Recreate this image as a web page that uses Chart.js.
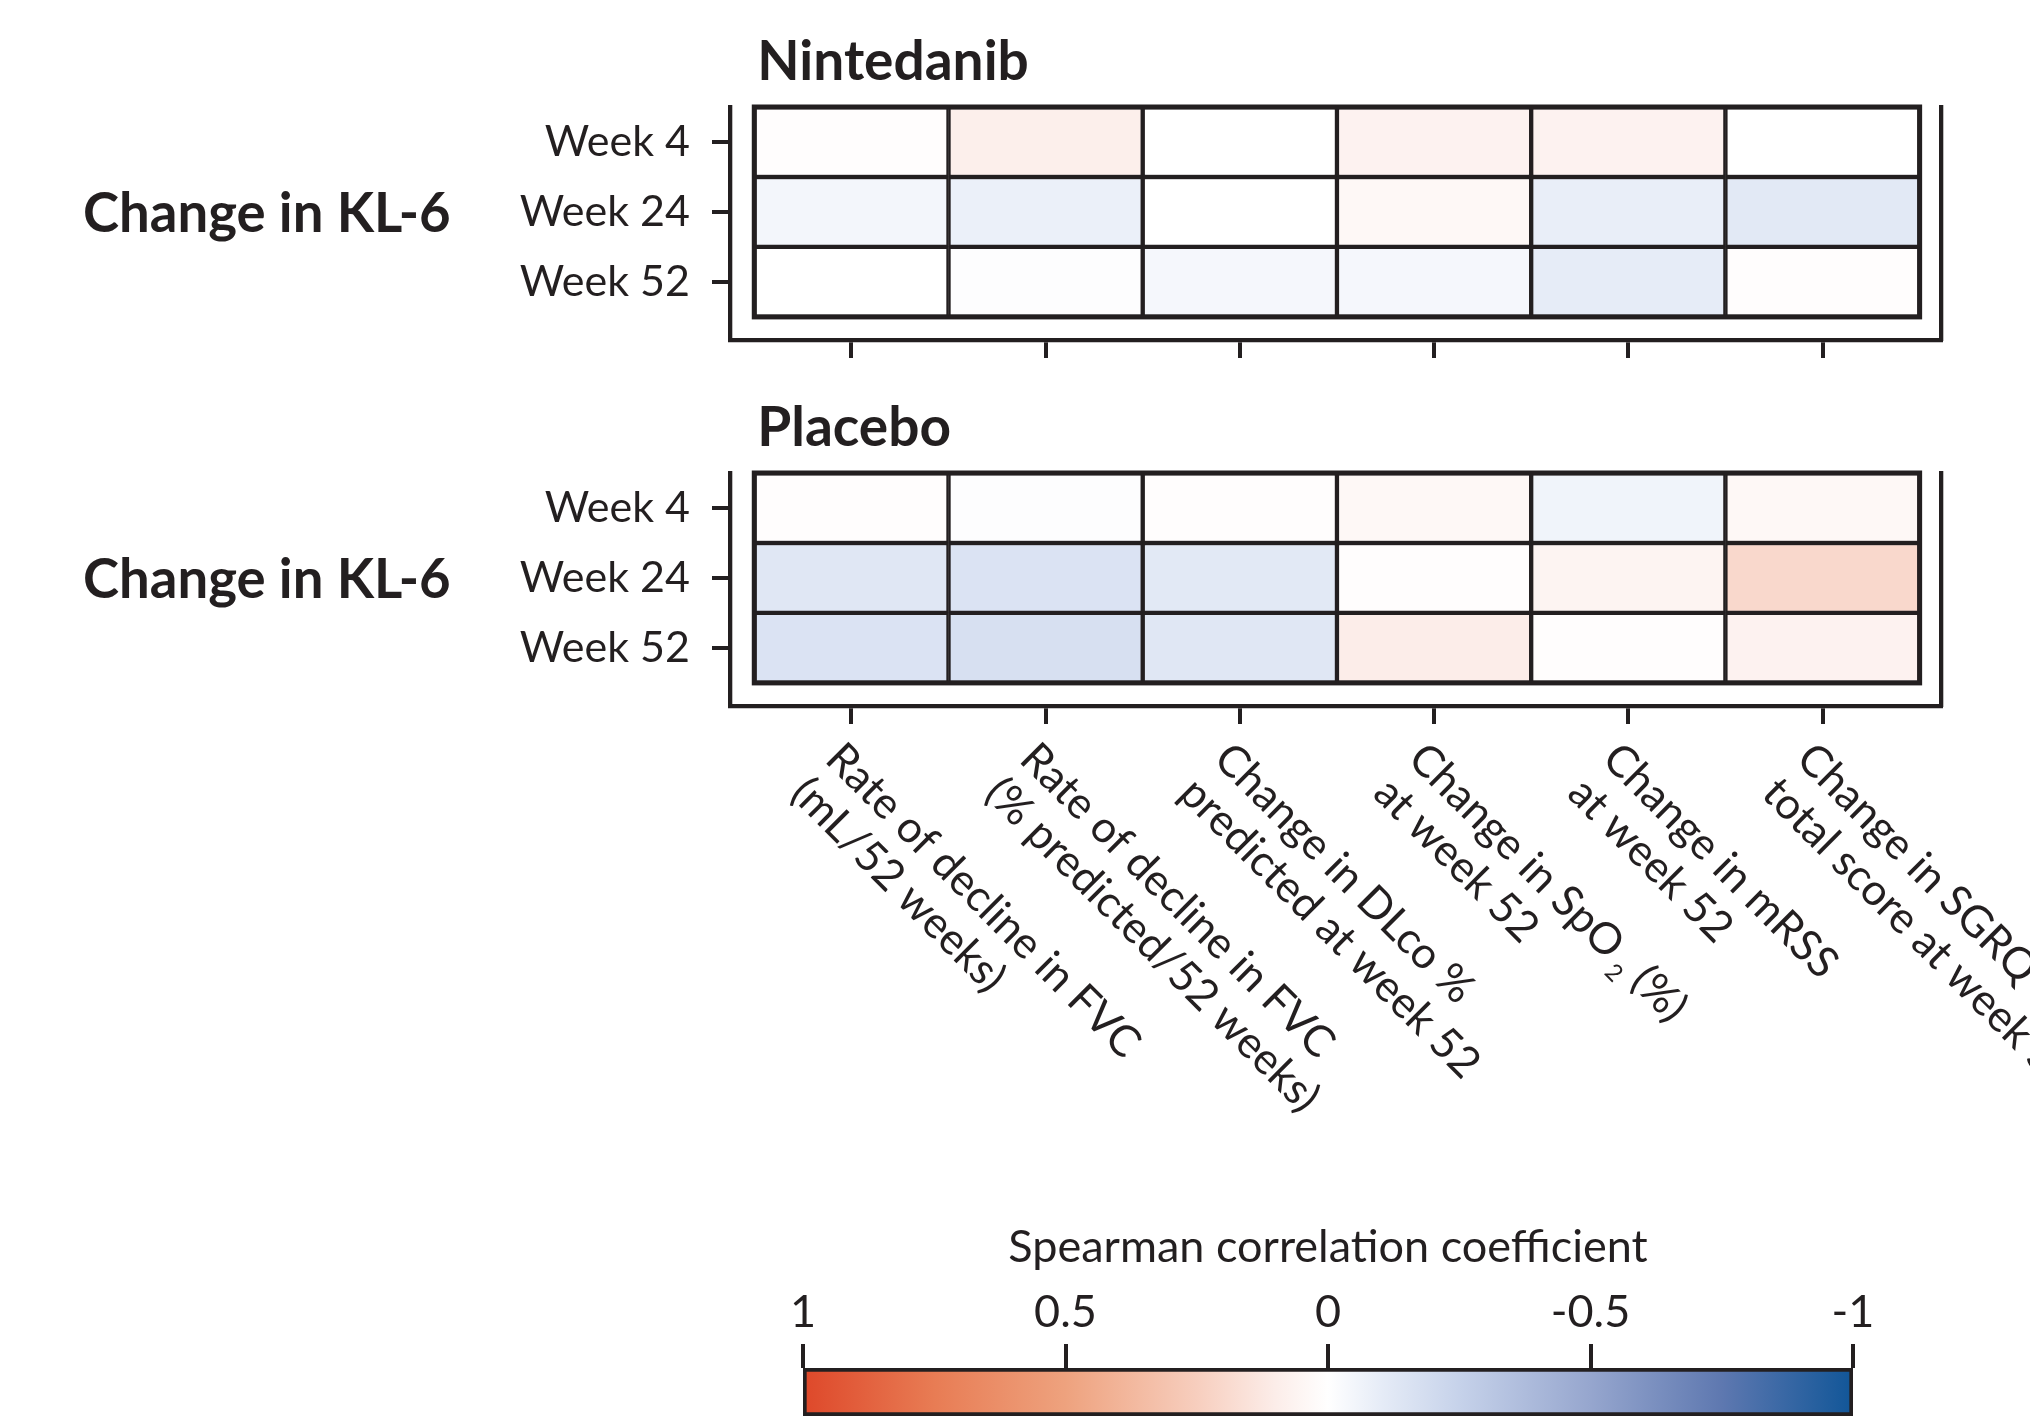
<!DOCTYPE html>
<html>
<head>
<meta charset="utf-8">
<title>KL-6 correlations</title>
<script src="https://cdn.jsdelivr.net/npm/chart.js@4.4.1/dist/chart.umd.min.js"></script>
<style>
  html, body { margin: 0; padding: 0; background: #fff; }
  #page { position: relative; width: 2030px; height: 1422px; overflow: hidden; background: #fff; }
  canvas { position: absolute; }
</style>
</head>
<body>
<div id="page">
  <canvas id="nintedanib" width="2030" height="366" style="left:0;top:0"></canvas>
  <canvas id="placebo" width="2030" height="820" style="left:0;top:366px"></canvas>
  <canvas id="colorbar" width="1300" height="222" style="left:700px;top:1200px"></canvas>
</div>
<script>
// ---- data ----
const outcomes = [
  ['Rate of decline in FVC', '(mL/52 weeks)'],
  ['Rate of decline in FVC', '(% predicted/52 weeks)'],
  ['Change in DLco %', 'predicted at week 52'],
  ['Change in SpO\u2082 (%)', 'at week 52'],
  ['Change in mRSS', 'at week 52'],
  ['Change in SGRQ', 'total score at week 52']
];
const weekLabels = ['Week 4', 'Week 24', 'Week 52'];
const groupLabel = 'Change in KL-6';

// Spearman rho, rows = weeks, columns = outcomes
const nintedanibRho = [
  [0.01, 0.09, 0.00, 0.07, 0.07, 0.00],
  [-0.05, -0.08, 0.00, 0.04, -0.09, -0.12],
  [0.00, -0.01, -0.04, -0.04, -0.10, 0.01]
];
const placeboRho = [
  [0.01, -0.01, 0.01, 0.04, -0.06, 0.04],
  [-0.13, -0.15, -0.12, 0.01, 0.06, 0.20],
  [-0.15, -0.17, -0.13, 0.10, 0.01, 0.07]
];
const colorbarTicks = [1, 0.5, 0, -0.5, -1];
const colorbarTitle = 'Spearman correlation coefficient';

// ---- styling ----
const INK = '#231f20';
const FONT = 'Lato, "Open Sans", sans-serif';
Chart.defaults.font.family = FONT;
Chart.defaults.color = INK;

// diverging ramp: value -> rgb
const RAMP = [
  [1, [222, 72, 42]],
  [0.75, [232, 124, 84]],
  [0.5, [238, 162, 126]],
  [0.25, [247, 206, 190]],
  [0.1, [252, 237, 233]],
  [0, [255, 255, 255]],
  [-0.1, [230, 236, 247]],
  [-0.25, [198, 210, 234]],
  [-0.5, [150, 166, 206]],
  [-0.75, [94, 120, 176]],
  [-1, [17, 86, 152]]
];

function rampColor(v) {
  v = Math.max(-1, Math.min(1, v));
  for (let i = 0; i < RAMP.length - 1; i++) {
    const [v0, c0] = RAMP[i];
    const [v1, c1] = RAMP[i + 1];
    if (v <= v0 && v >= v1) {
      const t = (v0 - v) / (v0 - v1);
      return 'rgb(' + c0.map((c, k) => Math.round(c + (c1[k] - c) * t)).join(',') + ')';
    }
  }
  return 'rgb(255,255,255)';
}

function rampGradient(chart) {
  const xs = chart.scales.x;
  if (!xs || !chart.chartArea) return '#ffffff';
  const x1 = xs.getPixelForValue(1), x2 = xs.getPixelForValue(-1);
  if (!Number.isFinite(x1) || !Number.isFinite(x2) || x1 === x2) return '#ffffff';
  const g = chart.ctx.createLinearGradient(x1, 0, x2, 0);
  RAMP.forEach(([v, c]) => g.addColorStop((1 - v) / 2, 'rgb(' + c.join(',') + ')'));
  return g;
}

// text with a subscript two (SpO2)
function drawRich(ctx, text, x, y, fs) {
  const parts = text.split('\u2082');
  ctx.font = fs + 'px ' + FONT;
  if (parts.length === 1) { ctx.fillText(text, x, y); return; }
  ctx.fillText(parts[0], x, y);
  let cx = x + ctx.measureText(parts[0]).width + fs * 0.14;
  ctx.font = Math.round(fs * 0.55) + 'px ' + FONT;
  ctx.fillText('2', cx, y + fs * 0.25);
  cx += ctx.measureText('2').width;
  ctx.font = fs + 'px ' + FONT;
  ctx.fillText(parts[1], cx, y);
}

// frame around the grid, panel title, row-group label and slanted outcome labels
const panelDecor = {
  id: 'panelDecor',
  afterDatasetsDraw(chart) {
    const { ctx } = chart;
    const xs = chart.scales.x, ys = chart.scales.y;
    const l = xs.getPixelForValue(-0.5), r = xs.getPixelForValue(outcomes.length - 0.5);
    const t = ys.getPixelForValue(-0.5), b = ys.getPixelForValue(weekLabels.length - 0.5);
    ctx.save();
    ctx.strokeStyle = INK;
    ctx.lineWidth = 5;
    ctx.strokeRect(l, t, r - l, b - t);
    ctx.restore();
  },
  afterDraw(chart, args, opts) {
    const { ctx } = chart;
    const xs = chart.scales.x, ys = chart.scales.y;
    const left = xs.getPixelForValue(-0.5), top = ys.getPixelForValue(-0.5);
    ctx.save();
    ctx.fillStyle = INK;
    ctx.textAlign = 'left';
    ctx.textBaseline = 'alphabetic';
    ctx.font = 'bold 55px ' + FONT;
    ctx.fillText(opts.title, left + 3, top - 27);
    ctx.font = 'bold 54.5px ' + FONT;
    ctx.fillText(opts.group, 83, ys.getPixelForValue(1) + 20);
    if (opts.withLabels) {
      const fs = 43.5, lineH = 49, cap = 31;
      outcomes.forEach((lines, i) => {
        ctx.save();
        ctx.translate(xs.getPixelForValue(i) - 6, xs.top + 33);
        ctx.rotate(Math.PI / 4);
        lines.forEach((line, k) => drawRich(ctx, line, 0, cap + k * lineH, fs));
        ctx.restore();
      });
    }
    ctx.restore();
  }
};

function heatmapPanel(canvasId, rho, title, withLabels) {
  const canvas = document.getElementById(canvasId);
  const H = canvas.height;
  const cells = [];
  rho.forEach((row, r) => row.forEach((v, c) => cells.push({ x: c, y: [r - 0.5, r + 0.5], rho: v })));
  return new Chart(canvas, {
    type: 'bar',
    data: {
      datasets: [{
        data: cells,
        xAxisID: 'x',
        yAxisID: 'y',
        backgroundColor: (ctx) => rampColor(ctx.raw ? ctx.raw.rho : 0),
        borderColor: INK,
        borderWidth: 2.5,
        borderSkipped: false,
        barPercentage: 1,
        categoryPercentage: 1
      }]
    },
    options: {
      responsive: false,
      animation: false,
      events: [],
      layout: { padding: { top: 107, right: 89, left: 0, bottom: H - 340 - 26 } },
      plugins: {
        legend: { display: false },
        tooltip: { enabled: false },
        panelDecor: { title: title, group: groupLabel, withLabels: withLabels }
      },
      scales: {
        x: {
          type: 'linear',
          offset: false,
          min: -0.625,
          max: outcomes.length - 0.39,
          afterBuildTicks: (s) => { s.ticks = outcomes.map((_, i) => ({ value: i })); },
          afterFit: (s) => { s.height = 26; s.paddingLeft = 0; s.paddingRight = 0; },
          ticks: { display: false },
          grid: { offset: false, drawOnChartArea: false, drawTicks: true, tickLength: 18, lineWidth: 4, color: INK },
          border: { display: true, width: 4.3, color: INK }
        },
        y: {
          type: 'linear',
          reverse: true,
          min: -0.5,
          max: weekLabels.length - 0.5 + 0.33,
          afterBuildTicks: (s) => { s.ticks = weekLabels.map((_, i) => ({ value: i })); },
          afterFit: (s) => { s.width = 730; s.paddingTop = 0; s.paddingBottom = 0; },
          ticks: { callback: (v) => weekLabels[v], font: { size: 43 }, padding: 22, color: INK, autoSkip: false },
          grid: { drawOnChartArea: false, drawTicks: true, tickLength: 18, lineWidth: 4, color: INK },
          border: { display: true, width: 4.3, color: INK }
        },
        y2: {
          type: 'linear',
          position: 'right',
          display: true,
          afterFit: (s) => { s.width = 0; s.paddingTop = 0; s.paddingBottom = 0; },
          ticks: { display: false },
          grid: { display: false, drawTicks: false },
          border: { display: true, width: 4.3, color: INK }
        }
      }
    },
    plugins: [panelDecor]
  });
}

heatmapPanel('nintedanib', nintedanibRho, 'Nintedanib', false);
heatmapPanel('placebo', placeboRho, 'Placebo', true);

// colour key
const colorKey = new Chart(document.getElementById('colorbar'), {
  type: 'bar',
  data: {
    labels: [''],
    datasets: [{
      data: [[-1, 1]],
      backgroundColor: (ctx) => rampGradient(ctx.chart),
      borderColor: INK,
      borderWidth: 4,
      borderSkipped: false,
      barPercentage: 1,
      categoryPercentage: 1
    }]
  },
  options: {
    indexAxis: 'y',
    responsive: false,
    animation: false,
    events: [],
    layout: { padding: { left: 103, right: 147, top: 0, bottom: 6 } },
    plugins: { legend: { display: false }, tooltip: { enabled: false } },
    scales: {
      x: {
        type: 'linear',
        position: 'top',
        reverse: true,
        min: -1,
        max: 1,
        afterBuildTicks: (s) => { s.ticks = colorbarTicks.map((v) => ({ value: v })); },
        afterFit: (s) => { s.height = 168; },
        ticks: { font: { size: 45 }, padding: 5, color: INK, maxRotation: 0, callback: (v) => String(v) },
        grid: { drawOnChartArea: false, drawTicks: true, tickLength: 24, lineWidth: 4, color: INK },
        border: { display: false },
        title: { display: true, text: colorbarTitle, font: { size: 45 }, color: INK, padding: { top: 20, bottom: 0 } }
      },
      y: { display: false }
    }
  }
});
colorKey.update();
</script>
</body>
</html>
